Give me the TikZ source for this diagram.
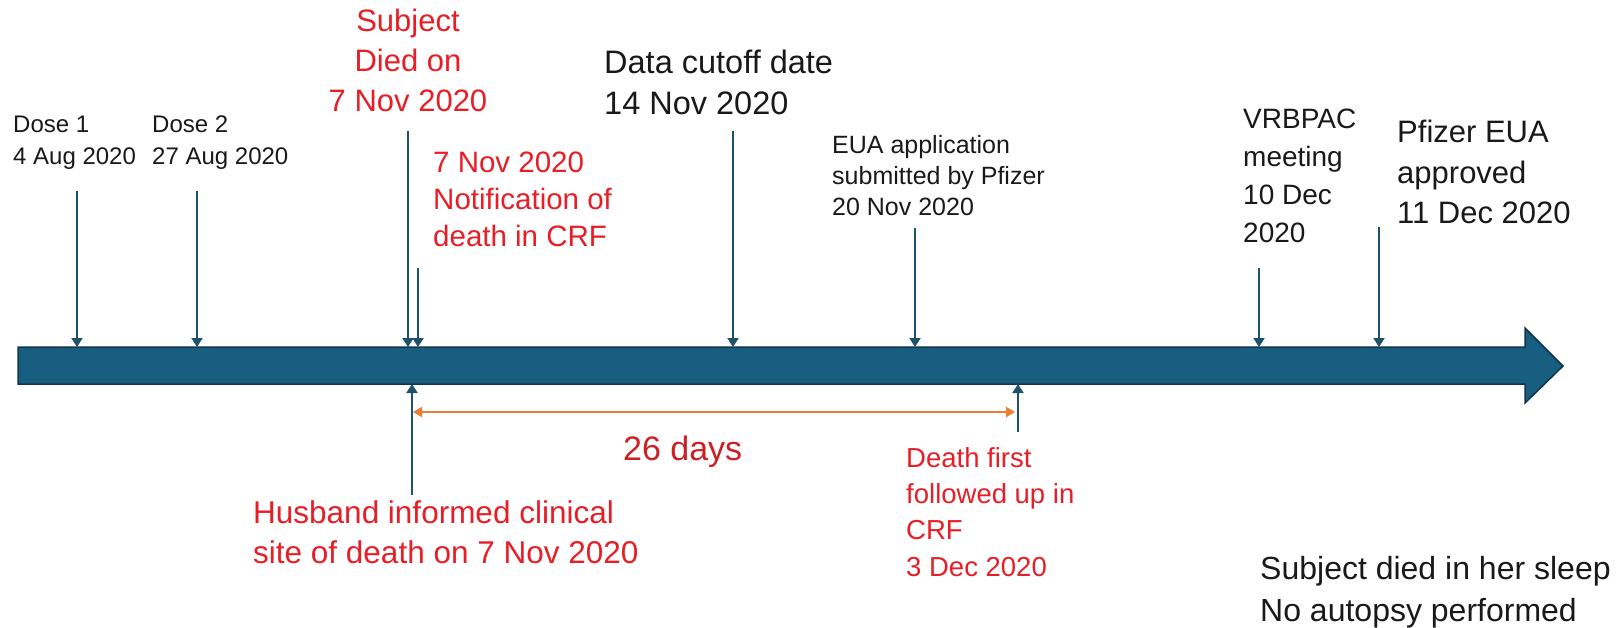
\documentclass[tikz,border=0pt]{standalone}
\usepackage{fontspec}
\setmainfont{Liberation Sans}
\usetikzlibrary{arrows.meta}
\definecolor{barfill}{RGB}{24,94,128}
\definecolor{barline}{RGB}{18,52,72}
\definecolor{tickc}{RGB}{30,82,108}
\definecolor{redt}{RGB}{232,30,38}
\definecolor{dred}{RGB}{204,32,36}
\definecolor{orng}{RGB}{237,125,49}
\definecolor{blk}{RGB}{25,25,25}
\tikzset{
  evt/.style={draw=tickc, line width=2pt, -{Triangle[width=11pt,length=9pt]}},
  spanarrow/.style={draw=orng, line width=2.4pt, {Triangle[width=10pt,length=9pt]}-{Triangle[width=10pt,length=9pt]}},
  lbl/.style={inner sep=0pt, anchor=base west, align=left, text=blk},
  rlbl/.style={lbl, text=redt},
}
\newcommand{\fs}[2]{\fontsize{#1}{#2}\selectfont}
\begin{document}
\begin{tikzpicture}[x=1pt,y=-1pt]
\useasboundingbox (0,0) rectangle (1621,628);
% main timeline bar
\filldraw[fill=barfill, draw=barline, line width=1.5pt]
  (18,347) -- (1525,347) -- (1525,328) -- (1563,366) -- (1525,403) -- (1525,384) -- (18,384) -- cycle;
% labels (positions give the baseline of the last line)
\node[lbl, font=\fs{24}{32}] (dose1) at (13,165) {Dose 1\\4 Aug 2020};
\node[lbl, font=\fs{24}{32}] (dose2) at (152,165) {Dose 2\\27 Aug 2020};
\node[rlbl, anchor=base, align=center, font=\fs{31}{40}] (died) at (408,112) {Subject\\Died on\\7 Nov 2020};
\node[rlbl, font=\fs{29.5}{37}] (notif) at (433,247) {7 Nov 2020\\Notification of\\death in CRF};
\node[lbl, font=\fs{32.5}{41}] (cutoff) at (604,115) {Data cutoff date\\14 Nov 2020};
\node[lbl, font=\fs{25}{31}] (eua) at (832,216) {EUA application\\submitted by Pfizer\\20 Nov 2020};
\node[lbl, font=\fs{28}{38}] (vrb) at (1243,243) {VRBPAC\\meeting\\10 Dec\\2020};
\node[lbl, font=\fs{31}{40.5}] (appr) at (1397,224) {Pfizer EUA\\approved\\11 Dec 2020};
\node[rlbl, font=\fs{31.5}{40}] (husb) at (253,563) {Husband informed clinical\\site of death on 7 Nov 2020};
\node[lbl, text=dred, font=\fs{34}{40}] (days) at (623,460) {26 days};
\node[rlbl, font=\fs{27.5}{36.3}] (follow) at (906,576) {Death first\\followed up in\\CRF\\3 Dec 2020};
\node[lbl, font=\fs{32}{42}] (note) at (1260,621) {Subject died in her sleep\\No autopsy performed};
% arrow end points
\coordinate (d1s) at (77,191);   \coordinate (d1e) at (77,347);
\coordinate (d2s) at (197,191);  \coordinate (d2e) at (197,347);
\coordinate (dds) at (408,131);  \coordinate (dde) at (408,347);
\coordinate (nts) at (418,268);  \coordinate (nte) at (418,347);
\coordinate (cos) at (733,131);  \coordinate (coe) at (733,347);
\coordinate (eus) at (915,228);  \coordinate (eue) at (915,347);
\coordinate (vrs) at (1259,268); \coordinate (vre) at (1259,347);
\coordinate (aps) at (1379,227); \coordinate (ape) at (1379,347);
\coordinate (hus) at (412,495);  \coordinate (hue) at (412,384);
\coordinate (fus) at (1018,432); \coordinate (fue) at (1018,384);
\coordinate (spl) at (413,412);  \coordinate (spr) at (1015,412);
% connectors
\draw[evt] (d1s) -- (d1e);
\draw[evt] (d2s) -- (d2e);
\draw[evt] (dds) -- (dde);
\draw[evt] (nts) -- (nte);
\draw[evt] (cos) -- (coe);
\draw[evt] (eus) -- (eue);
\draw[evt] (vrs) -- (vre);
\draw[evt] (aps) -- (ape);
\draw[evt] (hus) -- (hue);
\draw[evt] (fus) -- (fue);
\draw[spanarrow] (spl) -- (spr);
\end{tikzpicture}
\end{document}
